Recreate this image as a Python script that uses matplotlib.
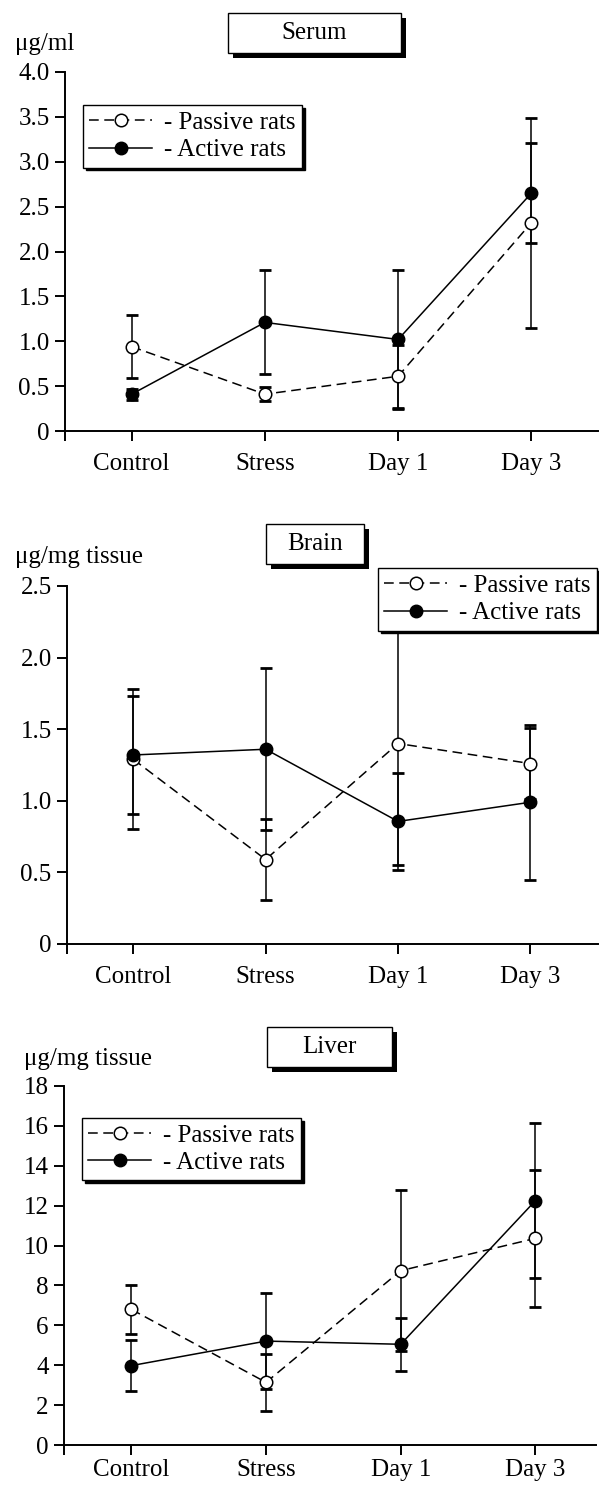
import numpy as np
import matplotlib
matplotlib.use('Agg')
import matplotlib.pyplot as plt
from matplotlib.patches import Rectangle

plt.rcParams['font.family'] = ['Liberation Serif', 'DejaVu Serif']
plt.rcParams['lines.scale_dashes'] = False

days = ['Control', 'Stress', 'Day 1', 'Day 3']

# serum, ug/ml
serum_passive = [0.94, 0.41, 0.61, 2.32]
serum_passive_err = [0.35, 0.08, 0.35, 1.17]
serum_active = [0.41, 1.21, 1.02, 2.65]
serum_active_err = [0.06, 0.58, 0.77, 0.56]
serum_yticks = [0, 0.5, 1.0, 1.5, 2.0, 2.5, 3.0, 3.5, 4.0]
serum_ylabels = ['0', '0.5', '1.0', '1.5', '2.0', '2.5', '3.0', '3.5', '4.0']

# brain, ug/mg tissue
brain_passive = [1.29, 0.59, 1.40, 1.26]
brain_passive_err = [0.49, 0.28, 0.845, 0.25]
brain_active = [1.32, 1.36, 0.856, 0.99]
brain_active_err = [0.41, 0.565, 0.337, 0.54]
brain_yticks = [0, 0.5, 1.0, 1.5, 2.0, 2.5]
brain_ylabels = ['0', '0.5', '1.0', '1.5', '2.0', '2.5']

# liver, ug/mg tissue
liver_passive = [6.80, 3.14, 8.74, 10.36]
liver_passive_err = [1.21, 1.43, 4.03, 3.44]
liver_active = [3.98, 5.21, 5.05, 12.25]
liver_active_err = [1.29, 2.39, 1.32, 3.88]
liver_yticks = [0, 2, 4, 6, 8, 10, 12, 14, 16, 18]
liver_ylabels = ['0', '2', '4', '6', '8', '10', '12', '14', '16', '18']

W, H = 599, 1485
fig = plt.figure(figsize=(W / 100, H / 100), dpi=100)
FS = 18


def px_box(x0, y0, x1, y1):
    # pixel box (top-left origin) -> figure fraction rect
    return [x0 / W, 1 - y1 / H, (x1 - x0) / W, (y1 - y0) / H]


def title_box(x0, y0, x1, y1, text):
    r = px_box(x0, y0, x1, y1)
    fig.patches.append(Rectangle((r[0] + 5 / W, r[1] - 5 / H), r[2], r[3],
                                 transform=fig.transFigure, facecolor='black',
                                 edgecolor='black', lw=0))
    fig.patches.append(Rectangle((r[0], r[1]), r[2], r[3], transform=fig.transFigure,
                                 facecolor='white', edgecolor='black', lw=1.0))
    fig.text(r[0] + r[2] / 2, r[1] + r[3] / 2, text, ha='center', va='center',
             fontsize=FS)


def panel(rect, passive, perr, active, aerr, yticks, ylabels, leg_xy, xright, xpad=9):
    ax = fig.add_axes(px_box(*rect))
    x = np.arange(len(days))
    ax.errorbar(x, passive, yerr=perr, fmt='none', ecolor='black', elinewidth=1.1,
                capsize=4, capthick=2.0, zorder=2)
    ax.errorbar(x, active, yerr=aerr, fmt='none', ecolor='black', elinewidth=1.1,
                capsize=4, capthick=2.0, zorder=2)
    ax.plot(x, passive, color='black', lw=1.1, dashes=(7, 4), marker='o', ms=9,
            mfc='white', mec='black', mew=1.1, zorder=3, label='- Passive rats')
    ax.plot(x, active, color='black', lw=1.1, marker='o', ms=9, mfc='black',
            mec='black', zorder=4, label='- Active rats')
    ax.set_xlim(-0.5, xright)
    ax.set_ylim(yticks[0], yticks[-1])
    ax.set_xticks(x)
    ax.set_xticklabels(days, fontsize=FS)
    ax.set_xticks([-0.5], minor=True)
    ax.set_yticks(yticks)
    ax.set_yticklabels(ylabels, fontsize=FS)
    for s in ['top', 'right']:
        ax.spines[s].set_visible(False)
    for s in ['left', 'bottom']:
        ax.spines[s].set_linewidth(1.4)
    ax.tick_params(axis='both', which='both', direction='out', length=7, width=1.4)
    ax.tick_params(axis='x', pad=xpad)
    ax.tick_params(axis='y', pad=4)
    leg = ax.legend(loc='upper left', bbox_to_anchor=leg_xy, fontsize=FS,
                    frameon=True, fancybox=False, numpoints=1, handlelength=2.5,
                    handletextpad=0.5, borderpad=0.25, labelspacing=0.2,
                    borderaxespad=0, shadow={'color': 'black', 'alpha': 1})
    leg.get_frame().set_edgecolor('black')
    leg.get_frame().set_linewidth(1.0)
    leg.set_zorder(10)
    return ax


# Serum
panel((65, 72, 598, 431), serum_passive, serum_passive_err, serum_active,
      serum_active_err, serum_yticks, serum_ylabels, (0.034, 0.908), 3.5)
title_box(228, 13, 401, 53, 'Serum')
fig.text(15 / W, 1 - 50 / H, 'μg/ml', fontsize=FS, ha='left', va='baseline')

# Brain
panel((67, 586, 598, 944), brain_passive, brain_passive_err, brain_active,
      brain_active_err, brain_yticks, brain_ylabels, (0.586, 1.05), 3.51)
title_box(266, 524, 364, 564, 'Brain')
fig.text(15 / W, 1 - 563 / H, 'μg/mg tissue', fontsize=FS, ha='left', va='baseline')

# Liver
panel((64, 1086, 596, 1445), liver_passive, liver_passive_err, liver_active,
      liver_active_err, liver_yticks, liver_ylabels, (0.034, 0.911), 3.45, xpad=3)
title_box(267, 1027, 392, 1067, 'Liver')
fig.text(24 / W, 1 - 1065 / H, 'μg/mg tissue', fontsize=FS, ha='left', va='baseline')

fig.savefig('out.png', dpi=100)
